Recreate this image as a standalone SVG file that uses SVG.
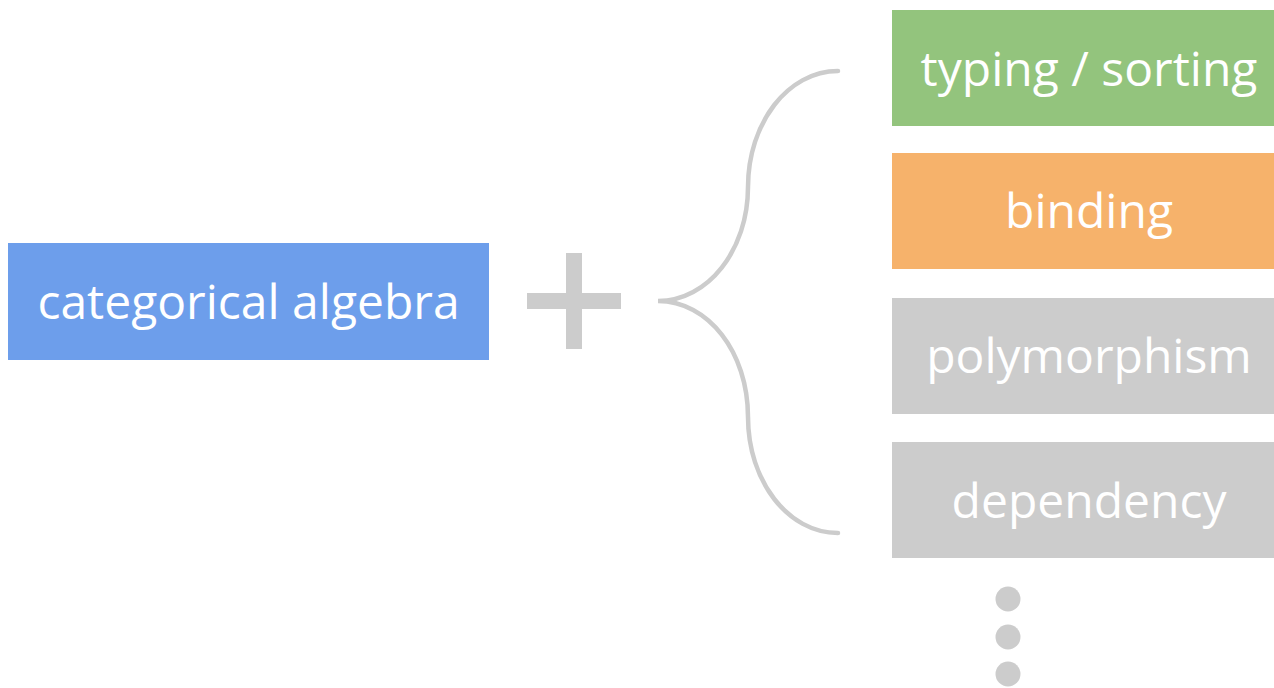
<svg xmlns="http://www.w3.org/2000/svg" width="1274" height="688" viewBox="0 0 1274 688">
<style>
.lbl{font-family:"Open Sans","Noto Sans",sans-serif;font-size:48px;fill:#ffffff;text-anchor:middle}
.gray{fill:#cccccc}
.brace{fill:none;stroke:#cccccc;stroke-width:4.5;stroke-linecap:round}
</style>
<rect width="1274" height="688" fill="#ffffff"/>
<g id="algebra">
<rect x="8" y="243" width="481" height="117" fill="#6d9eeb"/>
<text class="lbl" x="248.5" y="319">categorical algebra</text>
</g>
<g id="plus">
<rect class="gray" x="527" y="293" width="94" height="16"/>
<rect class="gray" x="566" y="253" width="16" height="96"/>
</g>
<g id="connectors">
<path class="brace" d="M838,71 C788,71 748,123 748,187 C748,250 708,301 658,301 C708,301 748,352 748,417 C748,481 788,533 838,533"/>
</g>
<g id="typing">
<rect x="892" y="10" width="394" height="116" fill="#93c47d"/>
<text class="lbl" x="1089" y="86">typing / sorting</text>
</g>
<g id="binding">
<rect x="892" y="153" width="394" height="116" fill="#f6b26b"/>
<text class="lbl" x="1089" y="228">binding</text>
</g>
<g id="polymorphism">
<rect class="gray" x="892" y="298" width="394" height="116"/>
<text class="lbl" x="1089" y="373">polymorphism</text>
</g>
<g id="dependency">
<rect class="gray" x="892" y="442" width="394" height="116"/>
<text class="lbl" x="1089" y="518">dependency</text>
</g>
<g id="more">
<circle class="gray" cx="1008" cy="599" r="12.5"/>
<circle class="gray" cx="1008" cy="637" r="12.5"/>
<circle class="gray" cx="1008" cy="674" r="12.5"/>
</g>
</svg>
